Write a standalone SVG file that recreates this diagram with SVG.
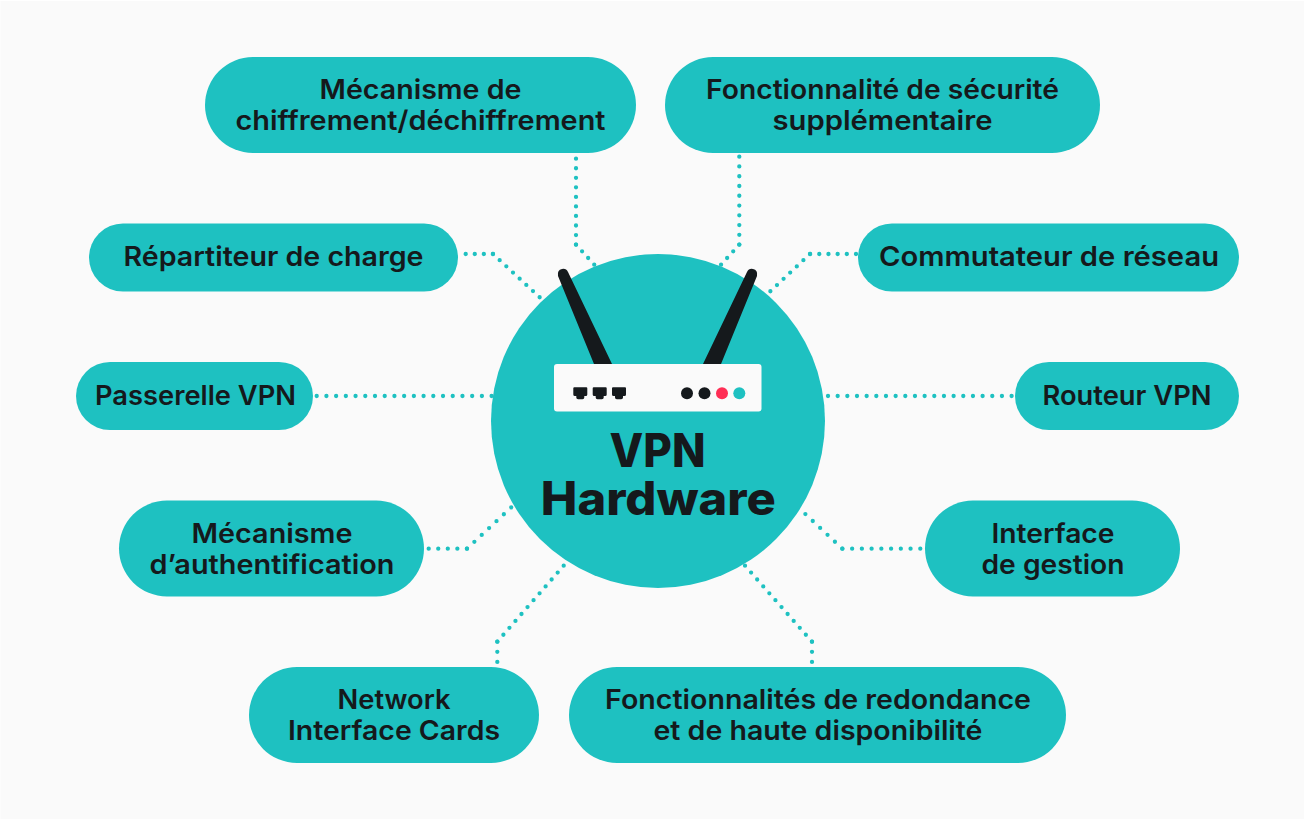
<svg xmlns="http://www.w3.org/2000/svg" width="1304" height="819" viewBox="0 0 1304 819">
<style>
.pill{fill:#1ec1c1}
.t{font-family:"Inter","Liberation Sans",sans-serif;font-weight:600;font-size:27px;fill:#15191c;text-anchor:middle}
.h{font-family:"Inter","Liberation Sans",sans-serif;font-weight:800;font-size:46px;fill:#15191c;text-anchor:middle}
.c{fill:none;stroke:#1ec1c1;stroke-width:4.3;stroke-linecap:round;stroke-linejoin:round;stroke-dasharray:0 1}
.d{fill:#15191c}
</style>
<rect width="1304" height="819" fill="#ffffff"/>
<rect x="0.500" y="1" width="1303.500" height="818" fill="#fafafa"/>
<g id="connectors" class="c">
<path d="M576 158.700V244.700" pathLength="9.01"/>
<path d="M576 244.700L594.300 264.700" pathLength="3.01"/>
<path d="M739.300 156.700V244.700" pathLength="9.01"/>
<path d="M739.300 244.700L721 264.700" pathLength="3.01"/>
<path d="M465.700 254H493" pathLength="3.01"/>
<path d="M493 254L539.700 297.300" pathLength="7.01"/>
<path d="M856 254H810" pathLength="5.01"/>
<path d="M810 254L770.300 291.300" pathLength="6.01"/>
<path d="M316.700 396H491.700" pathLength="18.010"/>
<path d="M828 396H1011.700" pathLength="19.010"/>
<path d="M428.700 548.700H467" pathLength="4.010"/>
<path d="M467 548.700L511.300 507.300" pathLength="6.010"/>
<path d="M920.300 548.700H842.300" pathLength="8.010"/>
<path d="M842.300 548.700L805.300 514" pathLength="5.010"/>
<path d="M563.700 565.700L497.300 641.700" pathLength="11.010"/>
<path d="M497.300 641.700V662" pathLength="2.010"/>
<path d="M745 565.700L812 641.700" pathLength="11.010"/>
<path d="M812 641.700V662" pathLength="2.010"/>
</g>
<g id="node-center">
<circle cx="658" cy="421" r="167" fill="#1ec1c1"/>
<path class="d" d="M558 276Q557 270 562 269Q566 268 568 272L612 364H594Z"/>
<path class="d" d="M757 276Q758 270 753 269Q749 268 747 272L703 364H721Z"/>
<rect x="554" y="364" width="207.500" height="47.500" rx="3" fill="#fafafa"/>
<path class="d" d="M574.300 387.300H586.300Q587.300 387.300 587.300 388.300V394.500Q587.300 396 585.800 396H584.300V397.500Q584.300 399.300 582.500 399.300H578.100Q576.300 399.300 576.300 397.500V396H574.800Q573.300 396 573.300 394.500V388.300Q573.300 387.300 574.300 387.300Z"/>
<path class="d" d="M593.700 387.300H605.700Q606.700 387.300 606.700 388.300V394.500Q606.700 396 605.200 396H603.700V397.500Q603.700 399.300 601.900 399.300H597.500Q595.700 399.300 595.700 397.500V396H594.200Q592.700 396 592.700 394.500V388.300Q592.700 387.300 593.700 387.300Z"/>
<path class="d" d="M613 387.300H625Q626 387.300 626 388.300V394.500Q626 396 624.500 396H623V397.500Q623 399.300 621.200 399.300H616.800Q615 399.300 615 397.500V396H613.500Q612 396 612 394.500V388.300Q612 387.300 613 387.300Z"/>
<circle class="d" cx="687" cy="393.300" r="6"/>
<circle class="d" cx="704.500" cy="393.300" r="6"/>
<circle cx="722" cy="393.300" r="6" fill="#ff2e55"/>
<circle cx="739.300" cy="393.300" r="6" fill="#1ec1c1"/>
<text class="h" x="657.500" y="467" textLength="96" lengthAdjust="spacingAndGlyphs">VPN</text>
<text class="h" x="658.300" y="515" textLength="235" lengthAdjust="spacingAndGlyphs">Hardware</text>
</g>
<g id="node-chiffrement"><rect class="pill" x="205" y="57" width="431" height="96" rx="48"/><text class="t" x="420.500" y="99" textLength="202" lengthAdjust="spacingAndGlyphs">Mécanisme de</text><text class="t" x="420.500" y="130" textLength="370" lengthAdjust="spacingAndGlyphs">chiffrement/déchiffrement</text></g>
<g id="node-securite"><rect class="pill" x="665" y="57" width="435" height="96" rx="48"/><text class="t" x="882.500" y="99" textLength="353" lengthAdjust="spacingAndGlyphs">Fonctionnalité de sécurité</text><text class="t" x="882.500" y="130" textLength="220" lengthAdjust="spacingAndGlyphs">supplémentaire</text></g>
<g id="node-repartiteur"><rect class="pill" x="89" y="223.500" width="369" height="68" rx="34"/><text class="t" x="273.500" y="266" textLength="300" lengthAdjust="spacingAndGlyphs">Répartiteur de charge</text></g>
<g id="node-commutateur"><rect class="pill" x="858" y="223.500" width="381" height="68" rx="34"/><text class="t" x="1049" y="266" textLength="340" lengthAdjust="spacingAndGlyphs">Commutateur de réseau</text></g>
<g id="node-passerelle"><rect class="pill" x="76" y="362" width="237" height="68" rx="34"/><text class="t" x="195.500" y="405" textLength="201" lengthAdjust="spacingAndGlyphs">Passerelle VPN</text></g>
<g id="node-routeur"><rect class="pill" x="1015" y="362" width="224" height="68" rx="34"/><text class="t" x="1127" y="405" textLength="169" lengthAdjust="spacingAndGlyphs">Routeur VPN</text></g>
<g id="node-auth"><rect class="pill" x="119" y="500.500" width="305" height="96" rx="48"/><text class="t" x="272" y="543" textLength="161" lengthAdjust="spacingAndGlyphs">Mécanisme</text><text class="t" x="272" y="574" textLength="245" lengthAdjust="spacingAndGlyphs">d’authentification</text></g>
<g id="node-gestion"><rect class="pill" x="925" y="500.500" width="255" height="96" rx="48"/><text class="t" x="1053" y="543" textLength="123" lengthAdjust="spacingAndGlyphs">Interface</text><text class="t" x="1053" y="574" textLength="143" lengthAdjust="spacingAndGlyphs">de gestion</text></g>
<g id="node-nic"><rect class="pill" x="249" y="667" width="290" height="96" rx="48"/><text class="t" x="394" y="709" textLength="113" lengthAdjust="spacingAndGlyphs">Network</text><text class="t" x="394" y="740" textLength="212" lengthAdjust="spacingAndGlyphs">Interface Cards</text></g>
<g id="node-redondance"><rect class="pill" x="569" y="667" width="497" height="96" rx="48"/><text class="t" x="818" y="709" textLength="426" lengthAdjust="spacingAndGlyphs">Fonctionnalités de redondance</text><text class="t" x="818" y="740" textLength="329" lengthAdjust="spacingAndGlyphs">et de haute disponibilité</text></g>
</svg>
